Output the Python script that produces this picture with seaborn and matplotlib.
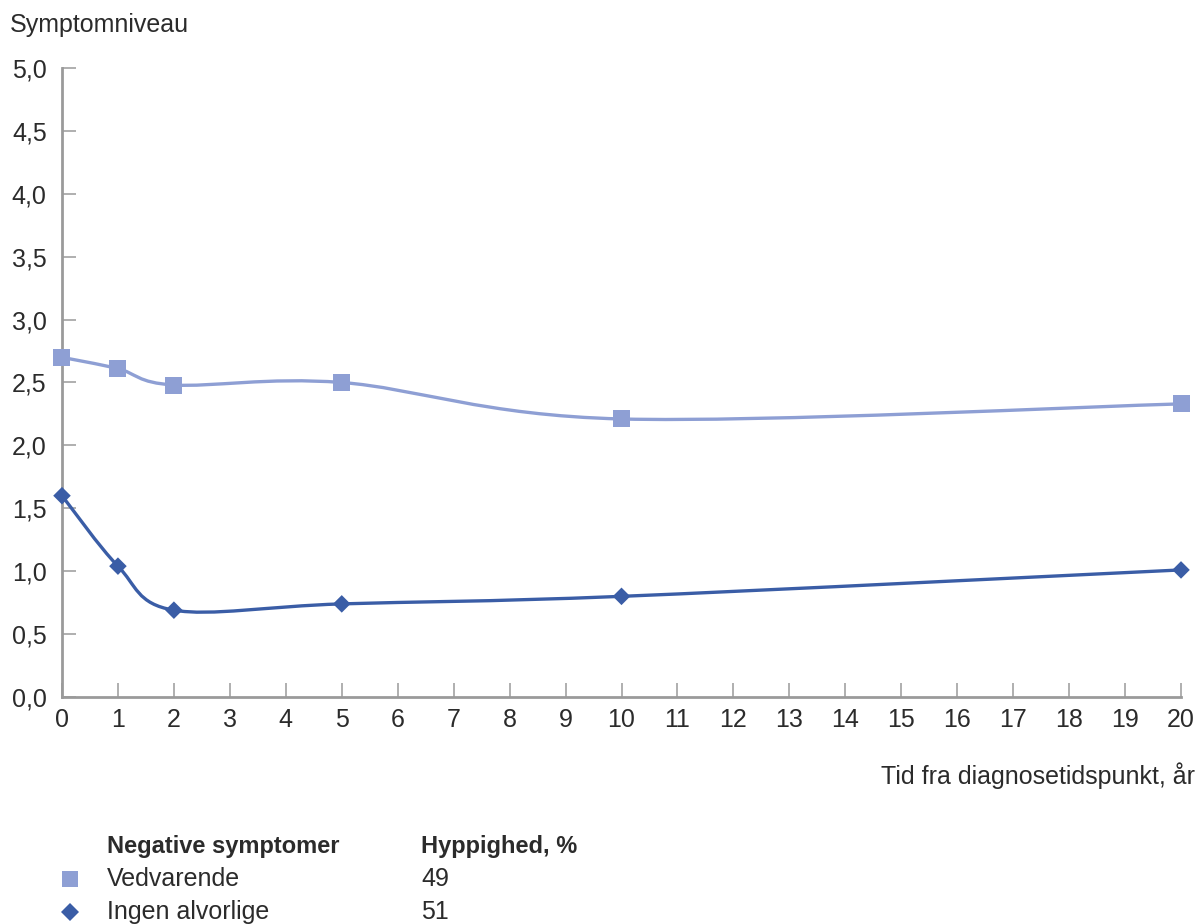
import numpy as np
import pandas as pd
import matplotlib
matplotlib.use('Agg')
import matplotlib.pyplot as plt
from matplotlib.path import Path
from matplotlib.patches import PathPatch
import seaborn as sns

# data
years = [0, 1, 2, 5, 10, 20]
vedvarende = [2.70, 2.61, 2.48, 2.50, 2.21, 2.33]
ingen_alvorlige = [1.60, 1.04, 0.69, 0.74, 0.80, 1.01]
series_names = ['Vedvarende', 'Ingen alvorlige']
frequency = [49, 51]
y_ticks = [0.0, 0.5, 1.0, 1.5, 2.0, 2.5, 3.0, 3.5, 4.0, 4.5, 5.0]
x_ticks = list(range(0, 21))

LIGHT = '#8e9fd4'
DARK = '#3a5da6'
AXIS = '#9a9a9a'
TEXT = '#2b2b2b'
FS = 18

sns.set_style('ticks')
plt.rcParams['font.family'] = ['Liberation Sans', 'DejaVu Sans']

df = pd.DataFrame({
    'year': years * 2,
    'value': vedvarende + ingen_alvorlige,
    'serie': [series_names[0]] * len(years) + [series_names[1]] * len(years),
})


def smooth_path(xs, ys):
    # Catmull-Rom style bezier, like a spreadsheet "smoothed line"
    pts = np.column_stack([xs, ys]).astype(float)
    ext = np.vstack([pts[0], pts, pts[-1]])
    verts = [tuple(pts[0])]
    codes = [Path.MOVETO]
    for i in range(1, len(ext) - 2):
        p0, p1, p2, p3 = ext[i - 1], ext[i], ext[i + 1], ext[i + 2]
        c1 = p1 + (p2 - p0) / 6
        c2 = p2 - (p3 - p1) / 6
        verts += [tuple(c1), tuple(c2), tuple(p2)]
        codes += [Path.CURVE4] * 3
    return Path(verts, codes)


fig = plt.figure(figsize=(11.99, 9.24), dpi=100)
ax = fig.add_axes([0.0517, 0.2457, 0.9333, 0.6807])

for name, color in zip(series_names, [LIGHT, DARK]):
    sub = df[df['serie'] == name]
    ax.add_patch(PathPatch(smooth_path(sub['year'], sub['value']), facecolor='none',
                           edgecolor=color, lw=2.4, capstyle='round', zorder=2))

sns.scatterplot(data=df, x='year', y='value', hue='serie', style='serie',
                markers={series_names[0]: 's', series_names[1]: 'D'},
                palette={series_names[0]: LIGHT, series_names[1]: DARK},
                size='serie', sizes={series_names[0]: 150, series_names[1]: 80},
                linewidth=0, legend=False, ax=ax, zorder=3, clip_on=False)

ax.set_xlim(0, 20)
ax.set_ylim(0, 5)
ax.set_xticks(x_ticks)
ax.set_xticklabels([str(t) for t in x_ticks])
ax.set_yticks(y_ticks)
ax.set_yticklabels([f'{t:.1f}'.replace('.', ',') for t in y_ticks])
ax.tick_params(axis='both', direction='in', length=10, width=1.1, color=AXIS,
               labelsize=FS, labelcolor=TEXT)
ax.tick_params(axis='x', pad=8)
ax.tick_params(axis='y', pad=11)
for side in ['top', 'right']:
    ax.spines[side].set_visible(False)
for side in ['left', 'bottom']:
    ax.spines[side].set_color(AXIS)
    ax.spines[side].set_linewidth(2)
ax.set_xlabel('')
ax.set_ylabel('')

fig.text(10 / 1199, 1 - 25 / 924, 'Symptomniveau', fontsize=FS, color=TEXT, va='center')
fig.text(1195 / 1199, 1 - 776 / 924, 'Tid fra diagnosetidspunkt, år', fontsize=FS,
         color=TEXT, ha='right', va='center')

# legend table
fig.text(107 / 1199, 1 - 846 / 924, 'Negative symptomer', fontsize=17, fontweight='bold',
         color=TEXT, va='center')
fig.text(421 / 1199, 1 - 846 / 924, 'Hyppighed, %', fontsize=17, fontweight='bold',
         color=TEXT, va='center')
row_y = [879, 912]
for name, color, mk, ms, freq, yy in zip(series_names, [LIGHT, DARK], ['s', 'D'], [11.5, 9],
                                           frequency, row_y):
    yf = 1 - yy / 924
    fig.lines.append(plt.Line2D([70 / 1199], [yf], marker=mk, markersize=ms, color=color,
                                markeredgewidth=0, transform=fig.transFigure, figure=fig))
    fig.text(107 / 1199, yf, name, fontsize=FS, color=TEXT, va='center')
    fig.text(421 / 1199, yf, str(freq), fontsize=FS, color=TEXT, va='center')

fig.savefig('out.png', dpi=100)
